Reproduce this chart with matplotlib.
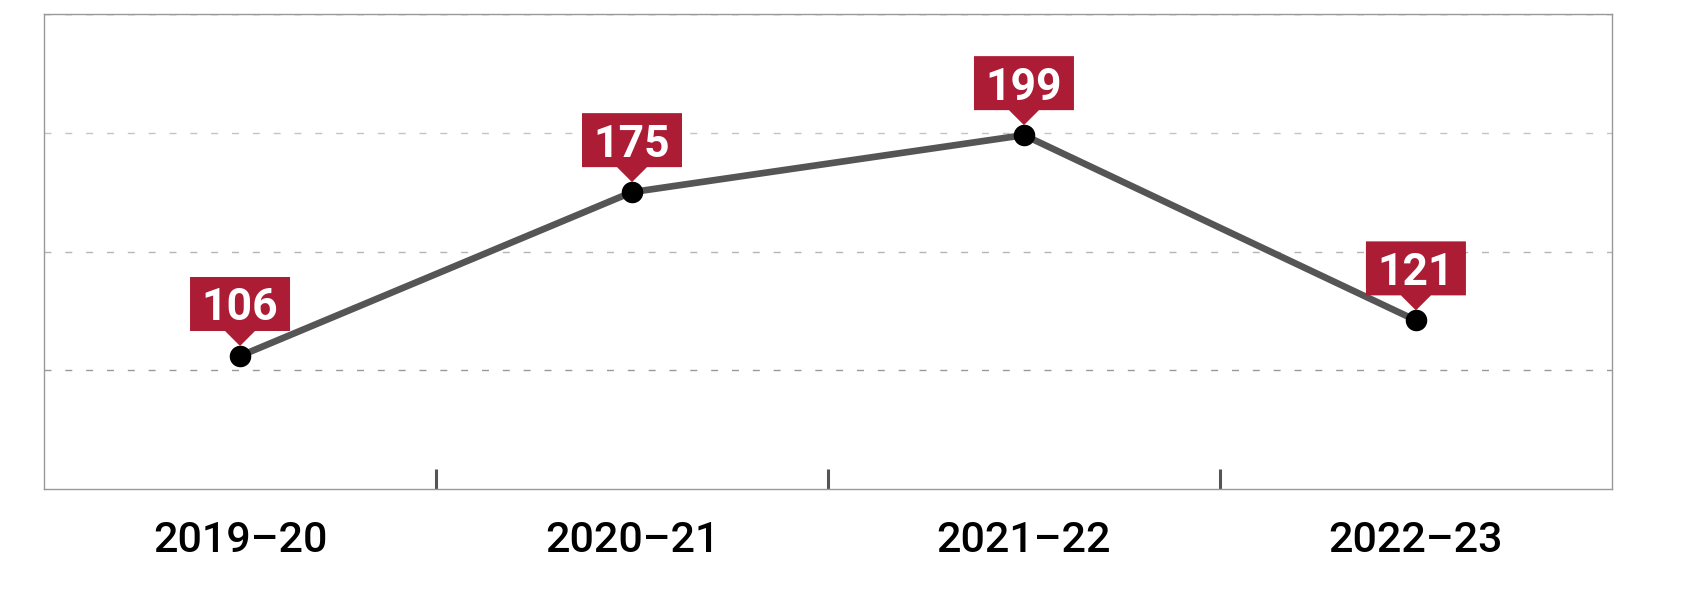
import numpy as np
import matplotlib
matplotlib.use("Agg")
import matplotlib.pyplot as plt
from matplotlib.patches import Polygon
from matplotlib.transforms import ScaledTranslation

years = ["2019\u201320", "2020\u201321", "2021\u201322", "2022\u201323"]
values = [106, 175, 199, 121]

red = "#ad1c35"

fig = plt.figure(figsize=(17.07, 5.89), dpi=100)
ax = fig.add_axes([0.0258, 0.1698, 0.9185, 0.8064])

x = np.arange(len(years))
ax.plot(x, values, color="#555555", lw=4.8, zorder=3)
ax.plot(x, values, "o", color="black", ms=14.5, zorder=4)

ax.set_xlim(-0.5, len(years) - 0.5)
ax.set_ylim(50, 250)

for yv, c in [(100, "#999999"), (150, "#b5b5b5"), (200, "#c4c4c4"), (250, "#888888")]:
    ax.axhline(yv, color=c, lw=1, ls=(0, (5, 10)), zorder=1)

for s in ax.spines.values():
    s.set_color("#999999")
    s.set_linewidth(1)

ax.set_yticks([])
ax.set_xticks(x)
ax.set_xticklabels(years, fontsize=31, family="Roboto", fontweight="medium")
ax.tick_params(axis="x", which="major", length=0, pad=22)
ax.set_xticks(x[:-1] + 0.5, minor=True)
ax.tick_params(axis="x", which="minor", direction="in", length=14.4, width=2.2, color="#555555")

# red callout boxes with pointer, sized in inches from each point
for xi, v in zip(x, values):
    tr = fig.dpi_scale_trans + ScaledTranslation(xi, v, ax.transData)
    verts = [(-0.50, 0.25), (-0.15, 0.25), (0, 0.10), (0.15, 0.25), (0.50, 0.25),
             (0.50, 0.79), (-0.50, 0.79)]
    ax.add_patch(Polygon(verts, closed=True, transform=tr, facecolor=red,
                         edgecolor="none", zorder=5, clip_on=False))
    ax.text(0, 0.52, str(v), transform=tr, ha="center", va="center_baseline",
            color="white", fontsize=32, family="Roboto", fontweight="bold", zorder=6)

fig.savefig("out.png", dpi=100)
